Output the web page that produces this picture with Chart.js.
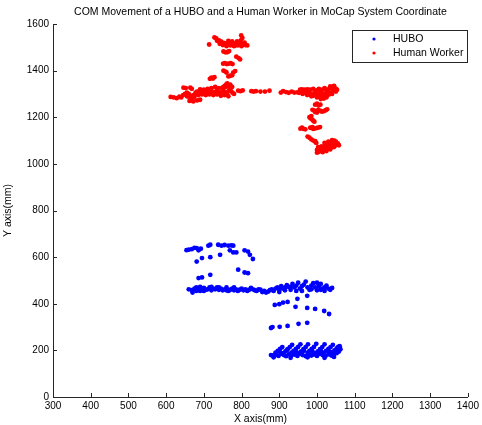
<!DOCTYPE html>
<html>
<head>
<meta charset="utf-8">
<script src="https://cdn.jsdelivr.net/npm/chart.js@4"></script>
<style>
html,body{margin:0;padding:0;background:#fff;}
#wrap{width:482px;height:425px;position:relative;}
</style>
</head>
<body>
<div id="wrap"><canvas id="c"></canvas></div>
<script>
const chartTitle = "COM Movement of a HUBO and a Human Worker in MoCap System Coordinate";
const seriesNames = ["HUBO", "Human Worker"];
const xAxisLabel = "X axis(mm)";
const yAxisLabel = "Y axis(mm)";
const xTickValues = [300,400,500,600,700,800,900,1000,1100,1200,1300,1400];
const yTickValues = [0,200,400,600,800,1000,1200,1400,1600];

// HUBO (blue) points [x, y] in mm
const huboArc = [[660,632],[668,634],[681,639],[686,629],[654,630],[675,640],[692,636],[712,649],[717,653],[738,653],[747,649],[765,649],[773,650],[778,649],[755,652],[769,629],[778,620],[786,620],[808,629],[817,624],[822,610],[830,592],[681,581],[695,596],[717,600],[743,610],[686,510],[695,513],[717,524],[791,546],[808,534],[817,531]];
const huboBand = [[660,462],[668,458],[675,465],[680,470],[685,460],[690,455],[695,465],[700,468],[705,460],[710,462],[715,470],[720,458],[725,465],[730,462],[735,470],[740,460],[745,465],[750,458],[755,462],[760,470],[765,455],[770,460],[775,465],[780,458],[785,462],[790,455],[795,460],[800,465],[805,458],[810,462],[815,455],[820,460],[825,468],[830,462],[835,458],[840,455],[845,462],[850,460],[855,450],[860,455],[865,448],[870,452],[875,458],[880,462],[885,455],[890,465],[895,470],[900,460],[905,475],[910,465],[915,470],[920,480],[925,472],[930,460],[935,485],[940,470],[945,478],[950,490],[955,465],[960,475],[965,482],[970,495],[975,470],[980,460],[985,478],[990,488],[995,470],[1000,458],[1005,475],[1010,485],[1015,465],[1020,470],[1025,478],[1030,465],[1035,460],[1040,468],[1000,490],[985,462],[960,455],[945,455],[930,472],[915,458],[900,450],[1020,455],[1010,460],[690,472],[670,448],[700,455],[740,470],[760,458],[780,470],[720,472],[680,455]];
const huboMid = [[888,395],[900,398],[910,405],[922,408],[948,421],[974,434],[943,387],[974,382],[995,378],[1019,369],[1032,356],[878,296],[882,300],[901,301],[922,305],[951,314],[974,318]];
const huboLow = [[878,180],[885,178],[892,182],[898,176],[905,185],[912,180],[918,175],[925,183],[932,178],[940,182],[948,176],[955,185],[962,180],[970,175],[978,183],[985,178],[992,182],[1000,176],[1008,185],[1015,180],[1022,175],[1030,183],[1038,178],[1045,182],[1052,188],[1058,195],[1062,205],[890,190],[896,198],[902,206],[908,214],[910,188],[916,196],[922,205],[928,214],[934,224],[932,190],[938,198],[944,206],[950,215],[956,226],[952,188],[958,196],[964,205],[970,214],[976,226],[975,190],[980,198],[986,206],[992,215],[998,228],[996,188],[1002,196],[1008,205],[1014,214],[1020,226],[1018,190],[1024,198],[1030,206],[1036,214],[1042,224],[1040,192],[1046,200],[1052,208],[1056,215],[1060,218],[900,195],[920,200],[945,195],[965,198],[988,196],[1010,198],[1032,196],[1050,200],[885,170],[930,168],[975,170],[1020,168],[1045,172]];

// Human Worker (red) points [x, y] in mm
const workerTop = [[728,1542],[733,1538],[740,1530],[745,1525],[750,1520],[755,1518],[760,1515],[765,1520],[770,1512],[775,1515],[780,1518],[785,1510],[790,1515],[795,1520],[800,1512],[805,1515],[810,1510],[815,1508],[750,1510],[760,1505],[770,1508],[780,1505],[790,1508],[800,1505],[742,1515],[798,1530],[802,1540],[799,1551],[714,1512],[735,1528],[808,1520],[775,1525],[765,1527],[788,1525]];
const workerDrop = [[752,1482],[758,1478],[763,1480],[767,1484],[786,1460],[792,1454],[796,1448],[751,1430],[756,1432],[761,1428],[766,1430],[771,1432],[776,1428],[757,1396],[752,1400],[760,1392],[778,1392],[783,1398],[770,1378],[765,1375],[775,1380],[720,1370],[724,1366],[716,1365],[728,1372],[759,1340],[755,1335],[762,1345]];
const workerBand = [[612,1287],[620,1285],[628,1282],[635,1288],[640,1285],[645,1295],[650,1300],[655,1305],[660,1300],[665,1290],[668,1283],[672,1295],[678,1305],[682,1310],[688,1305],[692,1300],[698,1308],[702,1312],[706,1305],[710,1300],[715,1310],[720,1315],[724,1305],[728,1300],[732,1310],[736,1318],[740,1305],[744,1300],[748,1310],[752,1315],[756,1305],[760,1300],[764,1310],[768,1320],[772,1312],[776,1305],[780,1300],[655,1290],[662,1285],[670,1280],[675,1288],[685,1295],[695,1298],[705,1295],[715,1298],[725,1295],[735,1298],[745,1292],[755,1295],[765,1290],[646,1327],[652,1325],[664,1327],[668,1322],[690,1320],[700,1318],[710,1322],[740,1325],[750,1328],[758,1330],[765,1335],[770,1340],[775,1330],[730,1330],[720,1325],[662,1270],[672,1268],[682,1272],[690,1275],[668,1275]];
const workerLink = [[791,1314],[797,1312],[803,1315],[826,1312],[832,1310],[838,1312],[850,1310],[862,1310],[874,1314],[904,1306],[910,1312],[918,1308],[925,1305],[933,1310],[940,1306],[948,1307]];
const workerRight = [[953,1305],[958,1310],[962,1300],[966,1312],[970,1305],[974,1295],[978,1310],[982,1318],[986,1300],[990,1292],[994,1308],[998,1315],[1002,1298],[1006,1290],[1010,1305],[1014,1318],[1018,1300],[1022,1290],[1026,1310],[1030,1320],[1034,1305],[1038,1325],[1042,1315],[1046,1330],[1050,1322],[1040,1300],[1028,1295],[1015,1285],[1000,1285],[985,1290],[975,1320],[990,1322],[1005,1322],[1020,1325],[1035,1332],[1045,1335],[1008,1312],[996,1300],[1012,1298],[1024,1318],[1032,1298],[968,1318],[960,1320],[955,1318],[980,1300],[1050,1310],[1053,1318],[1018,1280],[1010,1278],[1025,1285]];
const workerTrail = [[995,1254],[1000,1258],[1009,1254],[1004,1250],[988,1232],[993,1228],[998,1226],[1003,1230],[1008,1228],[1013,1224],[1018,1226],[1023,1230],[1027,1234],[1000,1220],[995,1222],[980,1200],[983,1195],[987,1190],[990,1185],[993,1181],[985,1205],[956,1151],[960,1155],[965,1150],[969,1148],[982,1155],[988,1158],[995,1152],[1002,1155],[1008,1158],[990,1150],[975,1117],[980,1112],[985,1105],[990,1100],[995,1095]];
const workerEnd = [[1000,1060],[1005,1052],[1010,1058],[1015,1065],[1020,1060],[1025,1070],[1030,1075],[1035,1080],[1040,1085],[1045,1090],[1050,1095],[1055,1088],[1058,1080],[1048,1078],[1038,1070],[1028,1065],[1018,1070],[1012,1075],[1022,1080],[1032,1088],[1042,1095],[1046,1100],[1008,1068],[1003,1072],[1015,1050],[1025,1055],[1035,1062],[1045,1072],[1050,1085],[998,1090],[1020,1090],[1030,1095],[1040,1102],[995,1098],[1000,1048]];

const toXY = arr => arr.map(p => ({x: p[0], y: p[1]}));
const huboData = toXY([].concat(huboArc, huboBand, huboMid, huboLow));
const workerData = toXY([].concat(workerTop, workerDrop, workerBand, workerLink, workerRight, workerTrail, workerEnd));

const FONT = "'Liberation Sans', Arial, sans-serif";
const AX = '#262626';

const insideTicks = {
  id: 'insideTicks',
  afterDraw(chart) {
    const ctx = chart.ctx;
    const xs = chart.scales.x, ys = chart.scales.y;
    const a = chart.chartArea;
    ctx.save();
    ctx.strokeStyle = AX;
    ctx.lineWidth = 1;
    ctx.beginPath();
    xs.ticks.forEach(t => {
      const px = Math.round(xs.getPixelForValue(t.value)) + 0.5;
      ctx.moveTo(px, a.bottom);
      ctx.lineTo(px, a.bottom - 4);
    });
    ys.ticks.forEach(t => {
      const py = Math.round(ys.getPixelForValue(t.value)) + 0.5;
      ctx.moveTo(a.left, py);
      ctx.lineTo(a.left + 4, py);
    });
    ctx.stroke();

    // legend box
    const bx = 352.5, by = 30.5, bw = 115, bh = 32;
    ctx.fillStyle = '#fff';
    ctx.fillRect(bx, by, bw, bh);
    ctx.strokeStyle = AX;
    ctx.strokeRect(bx, by, bw, bh);
    chart.data.datasets.forEach((ds, i) => {
      const cy = by + 8.5 + i * 14;
      ctx.fillStyle = ds.backgroundColor;
      ctx.beginPath();
      ctx.arc(374, cy, 1.6, 0, Math.PI * 2);
      ctx.fill();
      ctx.fillStyle = '#000';
      ctx.font = '10.5px ' + FONT;
      ctx.textBaseline = 'middle';
      ctx.textAlign = 'left';
      ctx.fillText(ds.label, 393, cy + 0.5);
    });
    ctx.restore();
  }
};

new Chart(document.getElementById('c'), {
  type: 'scatter',
  data: {
    datasets: [
      {label: seriesNames[0], data: huboData, backgroundColor: '#0000ff', borderColor: '#0000ff', pointRadius: 2.4, borderWidth: 0, pointHoverRadius: 2.4},
      {label: seriesNames[1], data: workerData, backgroundColor: '#ff0000', borderColor: '#ff0000', pointRadius: 2.4, borderWidth: 0, pointHoverRadius: 2.4}
    ]
  },
  options: {
    responsive: true,
    maintainAspectRatio: false,
    animation: false,
    events: [],
    layout: {padding: {top: 0, right: 10, bottom: 0, left: 0}},
    plugins: {
      legend: {display: false},
      tooltip: {enabled: false},
      title: {
        display: true,
        text: chartTitle,
        fullSize: false,
        color: '#000',
        font: {family: FONT, size: 10.5, weight: 'normal'},
        padding: {top: 6, bottom: 5.4}
      }
    },
    scales: {
      x: {
        type: 'linear',
        min: xTickValues[0],
        max: xTickValues[xTickValues.length - 1],
        afterBuildTicks: s => { s.ticks = xTickValues.map(v => ({value: v})); },
        afterFit: s => { s.height = 28; },
        grid: {display: false, drawTicks: false},
        border: {display: true, color: AX, width: 1},
        ticks: {color: '#000', font: {family: FONT, size: 10}, padding: 3, maxRotation: 0, autoSkip: false, callback: v => String(v)},
        title: {display: true, text: xAxisLabel, color: '#000', font: {family: FONT, size: 10.5}, padding: {top: 0, bottom: 0}}
      },
      y: {
        type: 'linear',
        min: yTickValues[0],
        max: yTickValues[yTickValues.length - 1],
        afterBuildTicks: s => { s.ticks = yTickValues.map(v => ({value: v})); },
        afterFit: s => { s.width = 53; },
        grid: {display: false, drawTicks: false},
        border: {display: true, color: AX, width: 1},
        ticks: {color: '#000', font: {family: FONT, size: 10}, padding: 4, autoSkip: false, callback: v => String(v)},
        title: {display: true, text: yAxisLabel, color: '#000', font: {family: FONT, size: 10.5}, padding: {top: 2, bottom: 0}}
      }
    }
  },
  plugins: [insideTicks]
});
</script>
</body>
</html>
